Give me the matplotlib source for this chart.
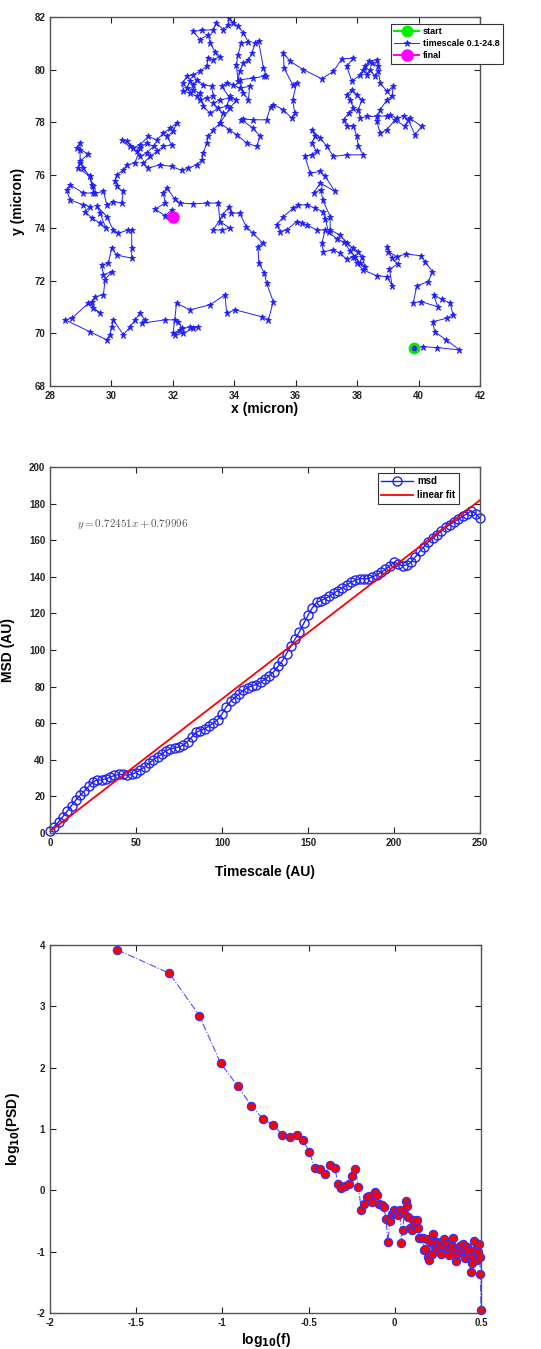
import numpy as np
import matplotlib
matplotlib.use("Agg")
import matplotlib.pyplot as plt

plt.rcParams['font.family'] = ['Liberation Sans', 'DejaVu Sans']
plt.rcParams['font.weight'] = 'bold'
plt.rcParams['mathtext.fontset'] = 'dejavusans'
plt.rcParams['axes.unicode_minus'] = False

# --- trajectory (micron), in time order, start -> final ---
traj_x = [39.85, 40.14, 40.59, 41.33, 40.9, 40.52, 40.46, 40.92, 41.12, 41.03, 40.76, 40.49, 40.62, 40.08,
          39.83, 39.94, 40.32, 40.45, 40.21, 40.07, 39.6, 39.29, 39.02, 38.97, 39.13, 39.32, 39.05, 39.14,
          38.97, 38.64, 38.2, 37.99, 37.88, 37.66, 37.45, 37.23, 36.9, 36.85, 36.96, 36.69, 36.36, 36.2,
          36.03, 35.71, 35.49, 35.38, 35.6, 35.92, 36.09, 36.36, 36.63, 36.88, 36.96, 37.07, 37.34, 37.56,
          37.77, 37.94, 38.1, 38.26, 38.15, 38.04, 37.88, 37.66, 37.45, 37.12, 37.12, 36.88, 36.82, 36.58,
          36.8, 37.28, 36.96, 36.8, 36.47, 36.3, 36.52, 36.68, 36.52, 36.63, 36.52, 36.8, 37.01, 37.23,
          37.66, 38.2, 38.04, 37.99, 37.88, 37.66, 37.56, 37.72, 37.88, 37.77, 37.66, 37.83, 37.99, 38.15,
          38.04, 38.1, 38.31, 38.64, 38.97, 39.08, 39.29, 39.51, 39.67, 39.88, 40.1, 39.72, 39.56, 39.23,
          38.97, 38.75, 38.64, 38.75, 38.97, 39.13, 39.18, 38.97, 38.75, 38.69, 38.58, 38.42, 38.31, 38.26,
          38.47, 38.69, 38.64, 38.37, 38.2, 38.1, 37.83, 37.66, 37.88, 37.5, 37.23, 36.85, 36.25, 35.82,
          35.6, 35.62, 35.9, 36.03, 35.9, 35.97, 35.87, 35.6, 35.27, 35.18, 35.05, 34.62, 34.29, 34.23,
          34.62, 34.84, 34.73, 34.41, 34.08, 33.84, 33.53, 33.62, 33.32, 33.53, 33.86, 33.59, 33.75, 33.97,
          34.17, 34.5, 34.46, 34.29, 34.18, 34.62, 34.96, 35.04, 34.95, 34.79, 34.68, 34.57, 34.46, 34.3,
          34.18, 34.12, 34.07, 34.12, 34.23, 34.46, 34.3, 34.13, 33.97, 33.84, 33.81, 33.64, 33.42, 33.32,
          32.94, 32.67, 32.88, 33.15, 33.21, 33.37, 33.53, 33.32, 33.15, 33.1, 32.88, 32.67, 32.45, 32.32,
          32.34, 32.56, 32.78, 32.88, 33.1, 33.32, 33.26, 32.99, 32.78, 32.67, 32.56, 32.45, 32.67, 32.88,
          32.99, 33.21, 33.48, 33.75, 33.86, 34.07, 33.86, 33.53, 33.32, 33.15, 33.1, 32.99, 32.94, 32.78,
          32.5, 32.29, 31.96, 31.58, 31.2, 31.04, 31.26, 31.48, 31.69, 31.96, 31.8, 32.01, 32.12, 31.91,
          31.69, 31.48, 31.2, 30.93, 30.71, 30.5, 30.33, 30.6, 30.82, 30.93, 31.15, 31.37, 31.15, 30.93,
          30.77, 30.5, 30.39, 30.17, 30.12, 30.17, 30.39, 30.33, 30.06, 29.85, 29.74, 29.47, 29.36, 29.3,
          29.09, 28.98, 28.98, 28.87, 28.98, 29.25, 28.98, 28.92, 29.3, 29.39, 29.41, 29.09, 28.65, 28.54,
          28.65, 29.09, 29.3, 29.14, 29.36, 29.63, 29.82, 29.63, 29.52, 29.85, 30.06, 30.23, 30.55, 30.66,
          30.66, 30.66, 30.17, 30.01, 29.9, 29.68, 29.74, 30.01, 29.79, 29.74, 29.47, 29.36, 29.41, 29.63,
          29.25, 28.71, 28.49, 29.3, 29.85, 29.95, 30.01, 30.06, 30.39, 30.61, 30.77, 30.93, 31.09, 30.99,
          31.75, 32.07, 32.18, 32.29, 32.07, 32.34, 32.67, 32.83, 32.56, 32.23, 32.01, 32.12, 32.56, 33.21,
          33.7, 33.75, 34.03, 34.89, 35.11, 35.27, 35.05, 34.98, 34.8, 34.77, 34.93, 34.6, 34.39, 34.17,
          33.9, 33.84, 33.62, 33.32, 33.59, 33.86, 33.53, 33.48, 33.1, 32.67, 32.23, 32.07, 31.8, 31.69,
          31.75, 31.42, 31.75, 31.96, 32.0]
traj_y = [69.45, 69.49, 69.46, 69.37, 69.75, 70.06, 70.44, 70.57, 70.7, 71.14, 71.29, 71.46, 71.01, 71.2,
          71.16, 71.8, 71.96, 72.34, 72.72, 72.94, 73.01, 72.91, 73.1, 73.29, 72.85, 72.63, 72.43, 71.8,
          72.15, 72.18, 72.4, 72.66, 72.91, 72.81, 73.04, 73.16, 73.1, 73.42, 73.92, 73.92, 74.11, 74.18,
          74.24, 73.92, 73.86, 74.11, 74.43, 74.75, 74.87, 74.87, 74.75, 74.62, 74.34, 73.84, 73.58, 73.46,
          73.14, 72.91, 72.66, 72.53, 72.91, 73.1, 73.23, 73.42, 73.73, 73.92, 74.43, 75.06, 75.44, 75.32,
          75.7, 75.38, 75.95, 76.14, 76.08, 76.71, 76.77, 76.9, 77.21, 77.47, 77.72, 77.41, 77.09, 76.71,
          76.77, 76.77, 77.09, 77.47, 77.85, 77.87, 78.1, 78.35, 78.54, 78.86, 79.05, 79.24, 79.05, 78.86,
          78.48, 78.16, 78.23, 78.23, 78.25, 78.29, 78.16, 78.23, 78.08, 77.53, 77.85, 78.16, 77.85, 78.1,
          77.72, 77.59, 78.04, 78.48, 78.86, 78.99, 79.37, 79.18, 79.49, 79.94, 79.75, 80.0, 79.81, 80.13,
          80.25, 80.13, 80.38, 80.32, 80.0, 79.81, 79.56, 80.13, 80.44, 80.41, 79.94, 79.66, 80.0, 80.32,
          80.63, 80.06, 79.43, 79.49, 78.86, 78.35, 78.16, 78.48, 78.68, 78.6, 78.1, 78.1, 78.13, 78.1,
          77.78, 77.47, 77.09, 77.21, 77.53, 77.72, 77.97, 78.35, 78.73, 78.86, 78.92, 79.37, 79.49, 79.43,
          79.3, 79.37, 78.86, 79.11, 79.62, 79.68, 79.75, 79.78, 80.06, 81.08, 81.01, 80.62, 80.38, 80.25,
          79.94, 79.56, 80.19, 80.57, 81.01, 81.04, 81.39, 81.65, 81.77, 81.96, 81.71, 81.52, 81.77, 81.52,
          81.49, 81.46, 81.14, 81.33, 81.01, 80.69, 80.5, 80.38, 80.44, 80.13, 79.94, 79.81, 79.75, 79.49,
          79.18, 79.11, 78.99, 78.86, 78.92, 78.99, 79.37, 79.43, 79.62, 79.43, 79.56, 79.3, 79.24, 79.11,
          78.61, 78.35, 78.54, 78.61, 78.99, 78.86, 78.54, 77.97, 77.72, 77.47, 77.21, 76.84, 76.58, 76.39,
          76.27, 76.18, 76.33, 76.39, 76.27, 76.46, 76.71, 76.9, 77.09, 77.15, 77.47, 77.66, 77.97, 77.78,
          77.59, 77.34, 77.47, 77.15, 77.03, 77.28, 77.34, 77.09, 76.9, 76.71, 76.84, 77.09, 77.21, 77.03,
          76.46, 76.39, 76.2, 76.01, 75.76, 75.57, 75.38, 74.94, 75.0, 74.87, 75.38, 75.32, 75.63, 75.95,
          76.27, 76.46, 77.22, 77.03, 76.96, 76.81, 76.52, 76.27, 75.95, 75.57, 75.32, 75.32, 75.63, 75.44,
          75.06, 74.87, 74.81, 74.62, 74.37, 74.18, 73.99, 74.56, 74.84, 74.43, 73.92, 73.8, 73.92, 73.92,
          73.23, 72.85, 72.97, 73.23, 72.66, 72.59, 72.22, 72.34, 72.03, 71.46, 71.39, 71.2, 70.95, 70.76,
          71.14, 70.57, 70.51, 70.06, 69.75, 69.94, 70.25, 70.51, 69.94, 70.25, 70.51, 70.76, 70.51, 70.38,
          70.51, 70.51, 70.44, 70.19, 69.94, 70.0, 70.19, 70.25, 70.25, 70.13, 70.0, 71.14, 70.89, 71.08,
          71.46, 70.76, 70.89, 70.63, 70.51, 71.2, 71.9, 72.28, 72.66, 73.29, 73.42, 73.8, 74.05, 74.56,
          74.56, 74.81, 74.49, 73.92, 73.92, 73.99, 74.24, 74.94, 74.94, 74.91, 74.94, 75.09, 75.51, 75.32,
          74.94, 74.71, 74.46, 74.68, 74.4]

# --- MSD vs timescale ---
msd = [1, 3.5, 6, 9, 12, 15, 18, 20.5, 23, 25.5, 28, 29, 29, 29.5, 30.5, 31.5, 32, 32, 31.5, 32,
       33, 34.5, 36, 38, 40, 41.5, 43, 45, 46, 46.5, 47, 48, 50, 52.5, 55, 56, 57, 58.5, 60, 62,
       65, 69, 72, 74, 76, 78, 79.5, 80.5, 81, 82.5, 84, 86, 88, 91, 94, 98, 102, 106, 110, 114.5,
       119, 123, 126, 127, 128, 129.5, 131, 132.5, 134, 135.5, 137, 138, 139, 139, 139, 140, 141,
       142.5, 144, 146, 148, 147, 146, 146.5, 148, 151, 154, 156.5, 159, 161, 163, 165, 167, 168.5,
       170, 171.5, 173, 174.5, 176, 174.5, 172]
timescale = np.arange(len(msd)) * 2.5
fit_slope, fit_icpt = 0.72451, 0.79996

# --- power spectral density ---
log_f = [-1.609, -1.308, -1.134, -1.010, -0.911, -0.832, -0.763, -0.705, -0.654, -0.610, -0.565,
         -0.531, -0.496, -0.463, -0.434, -0.405, -0.376, -0.349, -0.329, -0.310, -0.287, -0.264,
         -0.246, -0.229, -0.211, -0.194, -0.177, -0.161, -0.148, -0.132, -0.117, -0.103, -0.090,
         -0.076, -0.063, -0.051, -0.041, -0.028, -0.016, -0.005, 0.007, 0.019, 0.030, 0.038, 0.046,
         0.055, 0.063, 0.071, 0.078, 0.088, 0.098, 0.107, 0.117, 0.127, 0.134, 0.142, 0.152, 0.162,
         0.169, 0.177, 0.185, 0.193, 0.200, 0.208, 0.216, 0.224, 0.231, 0.239, 0.247, 0.255, 0.262,
         0.270, 0.278, 0.285, 0.293, 0.301, 0.309, 0.316, 0.324, 0.332, 0.340, 0.347, 0.355, 0.363,
         0.370, 0.378, 0.386, 0.394, 0.401, 0.409, 0.417, 0.424, 0.432, 0.440, 0.448, 0.455, 0.461,
         0.467, 0.475, 0.482, 0.488, 0.494, 0.496, 0.500]
log_psd = [3.92, 3.54, 2.85, 2.07, 1.70, 1.38, 1.16, 1.07, 0.91, 0.87, 0.90, 0.82, 0.62, 0.36, 0.35,
           0.26, 0.41, 0.37, 0.11, 0.03, 0.07, 0.11, 0.24, 0.34, 0.05, -0.32, -0.23, -0.11, -0.09,
           -0.19, -0.03, -0.08, -0.23, -0.24, -0.27, -0.47, -0.85, -0.50, -0.38, -0.32, -0.38, -0.41,
           -0.32, -0.86, -0.65, -0.37, -0.17, -0.26, -0.44, -0.62, -0.65, -0.48, -0.57, -0.49, -0.61,
           -0.78, -0.78, -0.78, -0.98, -0.95, -0.79, -1.08, -1.14, -0.84, -1.03, -0.71, -0.85, -0.92,
           -0.84, -0.95, -0.87, -1.03, -0.90, -0.80, -0.92, -0.87, -0.98, -1.06, -0.95, -0.90, -0.77,
           -0.98, -1.15, -1.03, -0.95, -0.90, -0.98, -0.87, -0.95, -1.11, -0.92, -1.03, -0.98, -1.33,
           -1.19, -1.09, -0.82, -0.98, -1.13, -1.00, -0.87, -1.09, -1.37, -1.95]

W, H = 541, 1349
fig = plt.figure(figsize=(W / 100, H / 100), dpi=100)


def box_axes(rect):
    ax = fig.add_axes(rect)
    ax.tick_params(direction='in', top=True, right=True, length=4, width=0.8,
                   labelsize=7, colors='#222222')
    for s in ax.spines.values():
        s.set_color('#555555')
        s.set_linewidth(1.0)
    for lbl in ax.get_xticklabels() + ax.get_yticklabels():
        lbl.set_fontweight('bold')
    return ax


def px_rect(left, top, right, bottom):
    return [left / W, 1 - bottom / H, (right - left) / W, (bottom - top) / H]


# panel 1: trajectory
ax1 = box_axes(px_rect(50, 17, 480, 386))
ax1.plot(traj_x[0], traj_y[0], '-o', color='#00ee00', ms=7.5, lw=1.5, label='start', zorder=4)
ax1.plot(traj_x, traj_y, '-*', color='#2020ff', ms=4.5, lw=0.7, mew=0.6,
         label='timescale 0.1-24.8', zorder=3)
ax1.plot(traj_x[0], traj_y[0], 'o', color='#2020ff', ms=3, zorder=5)
ax1.plot(traj_x[-1], traj_y[-1], '-o', color='#ff00ff', ms=8, lw=1.5, label='final', zorder=4)
ax1.set_xlim(28, 42)
ax1.set_ylim(68, 82)
ax1.set_xticks(np.arange(28, 43, 2))
ax1.set_yticks(np.arange(68, 83, 2))
ax1.set_xlabel('x (micron)', fontsize=10, fontweight='bold', labelpad=1)
ax1.set_ylabel('y (micron)', fontsize=10, fontweight='bold', labelpad=7)
leg = ax1.legend(loc='upper left', bbox_to_anchor=(0.793, 0.981), fontsize=6.5, fancybox=False,
                 edgecolor='#333333', framealpha=1, borderpad=0.35, labelspacing=0.35,
                 handlelength=2.8, handletextpad=0.4, borderaxespad=0)
leg.get_frame().set_linewidth(0.8)
leg.set_zorder(10)

# panel 2: MSD
ax2 = box_axes(px_rect(50, 467, 480, 833))
ax2.plot(timescale, msd, '-o', color='#2020ff', mfc='none', ms=6.5, lw=1.0, mew=1.0,
         label='msd', clip_on=False)
fit_x = np.array([0, 250])
ax2.plot(fit_x, fit_slope * fit_x + fit_icpt, '-', color='#ff0000', lw=1.3, label='linear fit')
ax2.set_xlim(0, 250)
ax2.set_ylim(0, 200)
ax2.set_xticks(np.arange(0, 251, 50))
ax2.set_yticks(np.arange(0, 201, 20))
ax2.set_xlabel('Timescale (AU)', fontsize=10, fontweight='bold', labelpad=12)
ax2.set_ylabel('MSD (AU)', fontsize=10, fontweight='bold', labelpad=10)
ax2.text(15.7, 169, r'$y = %.5fx + %.5f$' % (fit_slope, fit_icpt), fontsize=8,
         color='#555555', math_fontfamily='cm', va='center')
leg2 = ax2.legend(loc='upper left', bbox_to_anchor=(0.763, 0.984), fontsize=7, fancybox=False,
                  edgecolor='#333333', framealpha=1, borderpad=0.35, labelspacing=0.4,
                  handlelength=3.2, handletextpad=0.5, borderaxespad=0)
leg2.get_frame().set_linewidth(0.8)

# panel 3: PSD
ax3 = box_axes(px_rect(50, 945, 481, 1313))
ax3.plot(log_f, log_psd, '-.o', color='#5050ff', lw=0.8, ms=6, mfc='#ff0000', mec='#3030ff',
         mew=0.8, clip_on=False)
ax3.set_xlim(-2, 0.5)
ax3.set_ylim(-2, 4)
ax3.set_xticks([-2, -1.5, -1, -0.5, 0, 0.5])
ax3.set_xticklabels(['-2', '-1.5', '-1', '-0.5', '0', '0.5'])
ax3.set_yticks(np.arange(-2, 5, 1))
ax3.set_xlabel(r'log$_{\mathbf{10}}$(f)', fontsize=10, fontweight='bold', labelpad=2)
ax3.set_ylabel(r'log$_{\mathbf{10}}$(PSD)', fontsize=10, fontweight='bold', labelpad=10)

fig.savefig('out.png', dpi=100, facecolor='white')
